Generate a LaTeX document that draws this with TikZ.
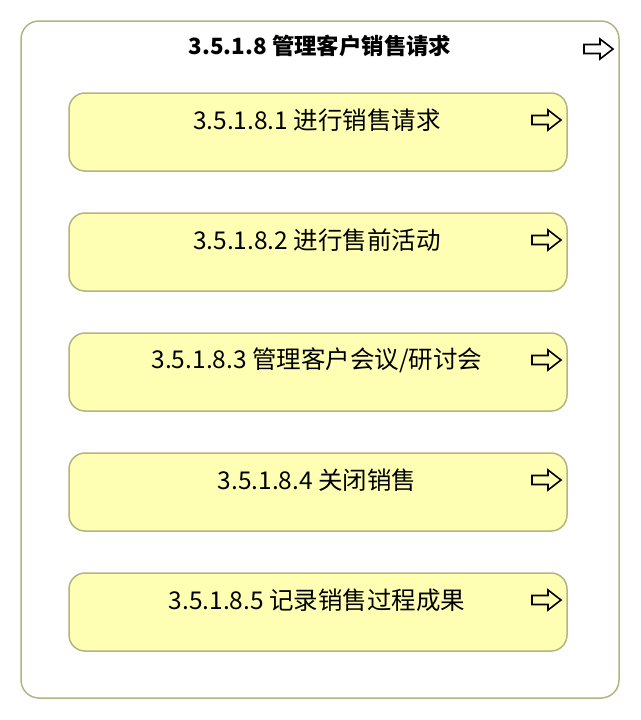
\documentclass[tikz,border=0pt]{standalone}
\usepackage{fontspec}
\setmainfont{Noto Sans CJK SC}
\usetikzlibrary{positioning}

\definecolor{boxline}{RGB}{180,180,128}
\definecolor{boxfill}{RGB}{255,255,180}

\tikzset{
  groupbox/.style={draw=boxline, fill=white, line width=1.5pt, rounded corners=18pt,
    minimum width=598pt, minimum height=677pt, inner sep=0pt},
  procbox/.style={draw=boxline, fill=boxfill, line width=1.5pt, rounded corners=16pt,
    minimum width=498pt, minimum height=78pt, inner sep=0pt},
  proctext/.style={font=\fontsize{24.5}{28}\selectfont, inner sep=0pt},
  arrowicon/.style={draw=black, line width=1.6pt, line join=miter}
}

% hollow block arrow, left end at #1
\newcommand{\goarrow}[1]{\draw[arrowicon] (#1) ++(0,4.5) -- ++(16,0) -- ++(0,5.5)
  -- ++(13,-10) -- ++(-13,-10) -- ++(0,5.5) -- ++(-16,0) -- cycle;}

\begin{document}
\begin{tikzpicture}[x=1pt, y=-1pt]
  \useasboundingbox (0,0) rectangle (640,720);

  \node[groupbox] (req) at (320,359.5) {};
  \node[font=\bfseries\fontsize{22.4}{26}\selectfont, inner sep=0pt] (reqtitle) at (320,46) {3.5.1.8 管理客户销售请求};
  \coordinate (reqarr) at (584,49);
  \goarrow{reqarr}

  \foreach \i/\name in {1/进行销售请求, 2/进行售前活动, 3/{管理客户会议/研讨会}, 4/关闭销售, 5/记录销售过程成果} {
    \node[procbox] (s\i) at (318,{132+(\i-1)*120}) {};
    \node[proctext] (t\i) at (317,{120+(\i-1)*120}) {3.5.1.8.\i{} \name};
    \coordinate (a\i) at (532,{120+(\i-1)*120});
    \goarrow{a\i}
  }
\end{tikzpicture}
\end{document}
